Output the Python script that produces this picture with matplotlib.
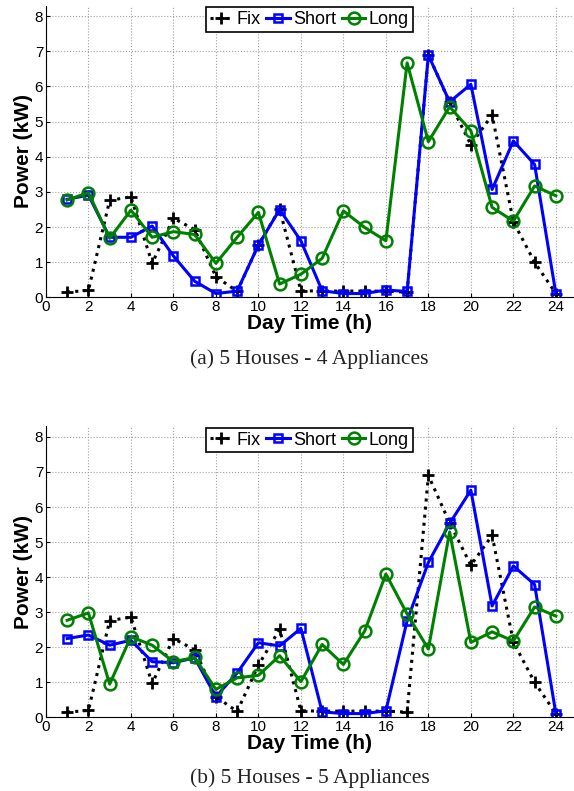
import matplotlib
matplotlib.use('Agg')
import matplotlib.pyplot as plt
import numpy as np

hours = list(range(1, 25))

# fixed schedule (same in both scenarios)
fix = [0.15, 0.2, 2.76, 2.86, 0.97, 2.25, 1.93, 0.59, 0.17, 1.49, 2.51, 0.19,
       0.18, 0.18, 0.18, 0.18, 0.15, 6.9, 5.55, 4.34, 5.19, 2.15, 1.0, 0.11]

# (a) 5 houses - 4 appliances
short_a = [2.79, 2.91, 1.71, 1.71, 2.03, 1.18, 0.46, 0.11, 0.18, 1.49, 2.5, 1.61,
           0.19, 0.11, 0.11, 0.21, 0.17, 6.89, 5.56, 6.06, 3.07, 4.45, 3.78, 0.11]
long_a = [2.77, 2.98, 1.68, 2.48, 1.71, 1.87, 1.79, 0.97, 1.71, 2.42, 0.38, 0.66,
          1.11, 2.46, 1.99, 1.61, 6.67, 4.43, 5.42, 4.74, 2.56, 2.17, 3.17, 2.89]

# (b) 5 houses - 5 appliances
short_b = [2.25, 2.35, 2.06, 2.2, 1.59, 1.56, 1.7, 0.59, 1.27, 2.13, 2.04, 2.54,
           0.16, 0.11, 0.11, 0.19, 2.76, 4.42, 5.53, 6.48, 3.18, 4.32, 3.79, 0.11]
long_b = [2.77, 2.98, 0.95, 2.3, 2.06, 1.59, 1.71, 0.8, 1.13, 1.2, 1.76, 1.02,
          2.08, 1.51, 2.46, 4.09, 2.95, 1.95, 5.29, 2.14, 2.44, 2.18, 3.15, 2.89]

captions = ['(a) 5 Houses - 4 Appliances', '(b) 5 Houses - 5 Appliances']
panels = [(short_a, long_a), (short_b, long_b)]

plt.rcParams['font.family'] = ['Liberation Sans', 'DejaVu Sans']
green = (0, 0.5, 0)

fig = plt.figure(figsize=(5.74, 7.91), dpi=100)
rects = [[0.080, 0.624, 0.918, 0.369], [0.080, 0.093, 0.918, 0.368]]

for rect, (sh, lo), cap in zip(rects, panels, captions):
	ax = fig.add_axes(rect)
	ax.plot(hours, fix, ':', color='black', lw=2.2, marker='+', ms=8, mew=2, label='Fix')
	ax.plot(hours, sh, '-', color='blue', lw=2.2, marker='s', ms=6, mew=1.8,
		mfc='none', label='Short')
	ax.plot(hours, lo, '-', color=green, lw=2.2, marker='o', ms=8.5, mew=1.8,
		mfc='none', label='Long')
	ax.set_xlim(0, 24.8)
	ax.set_ylim(0, 8.3)
	ax.set_xticks(range(0, 25, 2))
	ax.set_yticks(range(0, 9))
	ax.grid(True, linestyle=':', color='#a0a0a0', lw=0.8)
	ax.tick_params(direction='in', labelsize=11, length=3, pad=2)
	for s in ['top', 'right']:
		ax.spines[s].set_visible(False)
	ax.set_xlabel('Day Time (h)', fontsize=15, fontweight='bold', labelpad=0)
	ax.set_ylabel('Power (kW)', fontsize=15, fontweight='bold', labelpad=1)
	leg = ax.legend(loc='upper center', ncol=3, fontsize=13, handlelength=1.3,
		handletextpad=0.2, columnspacing=0.3, borderpad=0.2, borderaxespad=0.1,
		fancybox=False, framealpha=1)
	leg.get_frame().set_edgecolor('black')
	leg.get_frame().set_linewidth(1.2)
	ax.text(0.5, -0.21, cap, transform=ax.transAxes, ha='center', va='center',
		fontsize=15.5, family='Liberation Serif', color='#222222')

fig.savefig('out.png', dpi=100)
